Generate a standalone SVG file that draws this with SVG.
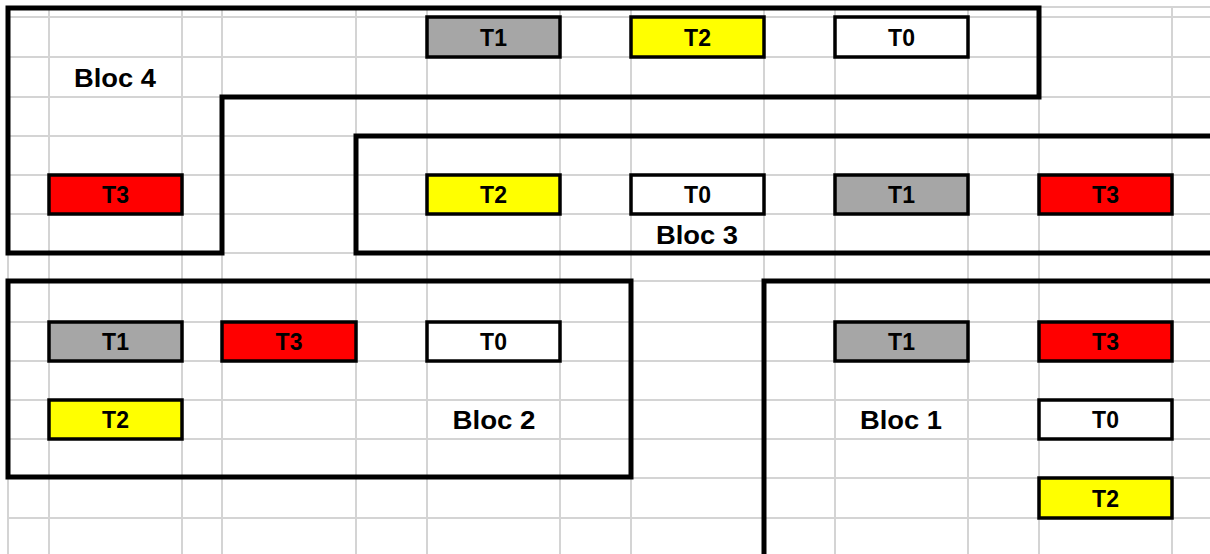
<svg xmlns="http://www.w3.org/2000/svg" width="1210" height="554" viewBox="0 0 1210 554">
<style>
.g{stroke:#d4d4d4;stroke-width:2;fill:none}
.b{stroke:#000;stroke-width:5;fill:none;stroke-linecap:square}
.t rect{stroke:#000;stroke-width:3.5}
.t text{font-family:"Liberation Sans",Arial,sans-serif;font-weight:bold;font-size:23px;text-anchor:middle;fill:#000}
.gr{fill:#a6a6a6}.ye{fill:#ffff00}.re{fill:#ff0000}.wh{fill:#ffffff}
.lbl{font-family:"Liberation Sans",Arial,sans-serif;font-weight:bold;font-size:25px;text-anchor:middle;fill:#000}
</style>
<rect width="1210" height="554" fill="#fff"/>
<g id="grid" class="g">
<path d="M8 7V554M49 7V554M182 7V554M222 7V554M356 7V554M427 7V554M560 7V554M631 7V554M764 7V554M835 7V554M968 7V554M1039 7V554M1172 7V554"/>
<path d="M8 7H1210M8 17H1210M8 57H1210M8 97H1210M8 136H1210M8 175H1210M8 214H1210M8 253H1210M8 281H1210M8 322H1210M8 361H1210M8 400H1210M8 439H1210M8 478H1210M8 518H1210"/>
</g>
<g id="connectors">
<path id="bloc4-border" class="b" d="M8 8H1039V97H222V253H8Z"/>
<path id="bloc3-border" class="b" d="M1212 136H356V253H1212"/>
<path id="bloc2-border" class="b" d="M8 281H631V477H8Z"/>
<path id="bloc1-border" class="b" d="M764 556V281H1212"/>
</g>
<g id="bloc4">
<text class="lbl" x="115" y="87" textLength="82" lengthAdjust="spacingAndGlyphs">Bloc 4</text>
<g class="t" id="b4-t1"><rect class="gr" x="427" y="17" width="133" height="40"/><text x="493.5" y="45.5">T1</text></g>
<g class="t" id="b4-t2"><rect class="ye" x="631" y="17" width="133" height="40"/><text x="697.5" y="45.5">T2</text></g>
<g class="t" id="b4-t0"><rect class="wh" x="835" y="17" width="133" height="40"/><text x="901.5" y="45.5">T0</text></g>
<g class="t" id="b4-t3"><rect class="re" x="49" y="175" width="133" height="39"/><text x="115.5" y="203">T3</text></g>
</g>
<g id="bloc3">
<text class="lbl" x="697" y="244" textLength="82" lengthAdjust="spacingAndGlyphs">Bloc 3</text>
<g class="t" id="b3-t2"><rect class="ye" x="427" y="175" width="133" height="39"/><text x="493.5" y="203">T2</text></g>
<g class="t" id="b3-t0"><rect class="wh" x="631" y="175" width="133" height="39"/><text x="697.5" y="203">T0</text></g>
<g class="t" id="b3-t1"><rect class="gr" x="835" y="175" width="133" height="39"/><text x="901.5" y="203">T1</text></g>
<g class="t" id="b3-t3"><rect class="re" x="1039" y="175" width="133" height="39"/><text x="1105.5" y="203">T3</text></g>
</g>
<g id="bloc2">
<text class="lbl" x="494" y="429" textLength="83" lengthAdjust="spacingAndGlyphs">Bloc 2</text>
<g class="t" id="b2-t1"><rect class="gr" x="49" y="322" width="133" height="39"/><text x="115.5" y="350">T1</text></g>
<g class="t" id="b2-t3"><rect class="re" x="222" y="322" width="134" height="39"/><text x="289" y="350">T3</text></g>
<g class="t" id="b2-t0"><rect class="wh" x="427" y="322" width="133" height="39"/><text x="493.5" y="350">T0</text></g>
<g class="t" id="b2-t2"><rect class="ye" x="49" y="400" width="133" height="39"/><text x="115.5" y="428">T2</text></g>
</g>
<g id="bloc1">
<text class="lbl" x="901" y="429" textLength="82" lengthAdjust="spacingAndGlyphs">Bloc 1</text>
<g class="t" id="b1-t1"><rect class="gr" x="835" y="322" width="133" height="39"/><text x="901.5" y="350">T1</text></g>
<g class="t" id="b1-t3"><rect class="re" x="1039" y="322" width="133" height="39"/><text x="1105.5" y="350">T3</text></g>
<g class="t" id="b1-t0"><rect class="wh" x="1039" y="400" width="133" height="39"/><text x="1105.5" y="428">T0</text></g>
<g class="t" id="b1-t2"><rect class="ye" x="1039" y="478" width="133" height="40"/><text x="1105.5" y="506.5">T2</text></g>
</g>
</svg>
